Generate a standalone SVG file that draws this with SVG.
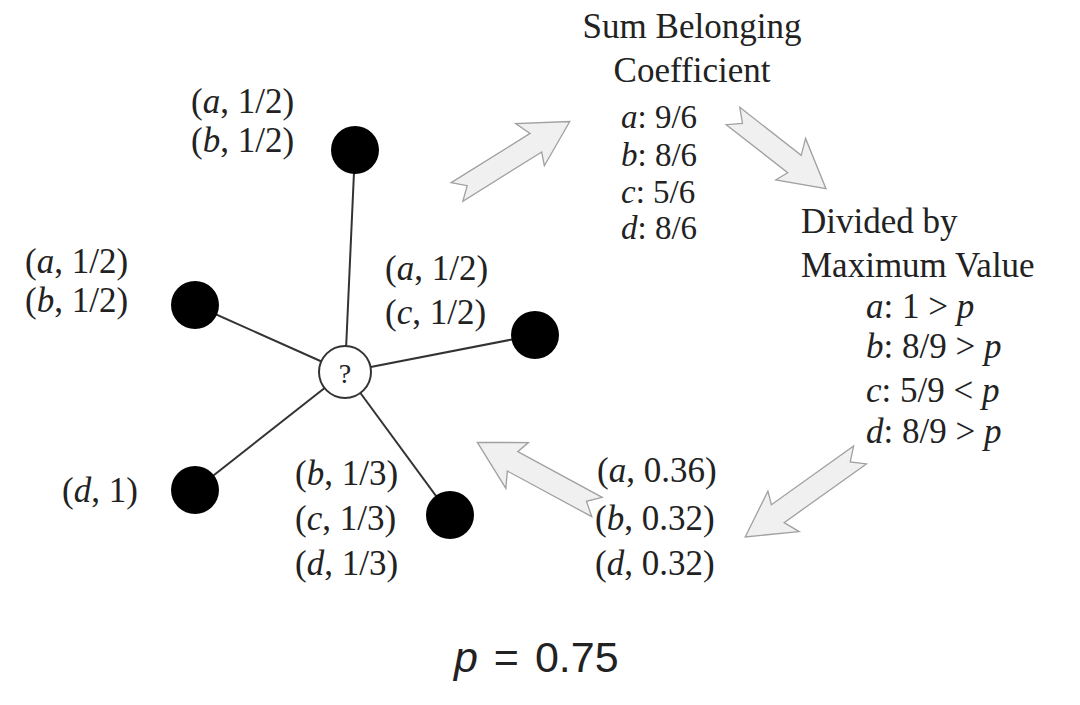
<svg xmlns="http://www.w3.org/2000/svg" width="1080" height="705" viewBox="0 0 1080 705">
<defs>
<style>
.t{font-family:"Liberation Serif","Times New Roman",serif;font-size:35px;fill:#222;}
.s{font-size:33px;}
.c{text-anchor:middle;}
.i{font-style:italic;}
.bn{fill:#000;}
.ln{stroke:#333;stroke-width:2;fill:none;}
.ar{fill:#f0f0f0;stroke:#a0a0a0;stroke-width:1.3;stroke-linejoin:miter;}
</style>
</defs>
<rect width="1080" height="705" fill="#fff"/>
<g id="connectors">
<line class="ln" x1="345" y1="372" x2="355" y2="150"/>
<line class="ln" x1="345" y1="372" x2="195" y2="305"/>
<line class="ln" x1="345" y1="372" x2="535" y2="335"/>
<line class="ln" x1="345" y1="372" x2="195" y2="490"/>
<line class="ln" x1="345" y1="372" x2="450" y2="515"/>
</g>
<g id="arrows">
<path class="ar" transform="translate(457,192) rotate(-32)" d="M0,-11 L93,-11 L86,-27 L133,0 L88,24 L93,11 L0,11 L12,0 Z"/>
<path class="ar" transform="translate(733,116) rotate(38)" d="M0,-11 L78,-11 L71,-27 L118,0 L73,24 L78,11 L0,11 L12,0 Z"/>
<path class="ar" transform="translate(860,455) rotate(144.5)" d="M0,-11 L101,-11 L94,-27 L141,0 L96,24 L101,11 L0,11 L12,0 Z"/>
<path class="ar" transform="translate(597,507) rotate(208.4)" d="M0,-11 L96,-11 L89,-27 L136,0 L91,24 L96,11 L0,11 L12,0 Z"/>
</g>
<g id="n1"><circle class="bn" cx="355" cy="150" r="24"/></g>
<g id="n2"><circle class="bn" cx="195" cy="305" r="24"/></g>
<g id="n3"><circle class="bn" cx="535" cy="335" r="24"/></g>
<g id="n4"><circle class="bn" cx="195" cy="490" r="24"/></g>
<g id="n5"><circle class="bn" cx="450" cy="515" r="24"/></g>
<g id="center"><circle cx="345" cy="372" r="26" fill="#fff" stroke="#333" stroke-width="2"/><text class="t c" x="345" y="383" style="font-size:28px">?</text></g>
<g id="labels">
<text class="t" x="191" y="113">(<tspan class="i">a</tspan>, 1/2)</text>
<text class="t" x="191" y="152">(<tspan class="i">b</tspan>, 1/2)</text>
<text class="t" x="25" y="273">(<tspan class="i">a</tspan>, 1/2)</text>
<text class="t" x="25" y="312">(<tspan class="i">b</tspan>, 1/2)</text>
<text class="t" x="385" y="280">(<tspan class="i">a</tspan>, 1/2)</text>
<text class="t" x="385" y="324">(<tspan class="i">c</tspan>, 1/2)</text>
<text class="t" x="62" y="502">(<tspan class="i">d</tspan>, 1)</text>
<text class="t" x="295" y="485">(<tspan class="i">b</tspan>, 1/3)</text>
<text class="t" x="295" y="530">(<tspan class="i">c</tspan>, 1/3)</text>
<text class="t" x="295" y="575">(<tspan class="i">d</tspan>, 1/3)</text>
</g>
<g id="sum">
<text class="t c" x="692" y="38">Sum Belonging</text>
<text class="t c" x="692" y="82">Coefficient</text>
<text class="t s" x="621" y="128"><tspan class="i">a</tspan>: 9/6</text>
<text class="t s" x="621" y="166"><tspan class="i">b</tspan>: 8/6</text>
<text class="t s" x="621" y="203"><tspan class="i">c</tspan>: 5/6</text>
<text class="t s" x="621" y="239"><tspan class="i">d</tspan>: 8/6</text>
</g>
<g id="divided">
<text class="t" x="801" y="233">Divided by</text>
<text class="t" x="801" y="277">Maximum Value</text>
<text class="t" x="866" y="318"><tspan class="i">a</tspan>: 1 &gt; <tspan class="i">p</tspan></text>
<text class="t" x="866" y="358"><tspan class="i">b</tspan>: 8/9 &gt; <tspan class="i">p</tspan></text>
<text class="t" x="866" y="402"><tspan class="i">c</tspan>: 5/9 &lt; <tspan class="i">p</tspan></text>
<text class="t" x="866" y="443"><tspan class="i">d</tspan>: 8/9 &gt; <tspan class="i">p</tspan></text>
</g>
<g id="result">
<text class="t" x="597" y="482">(<tspan class="i">a</tspan>, 0.36)</text>
<text class="t" x="595" y="530">(<tspan class="i">b</tspan>, 0.32)</text>
<text class="t" x="595" y="575">(<tspan class="i">d</tspan>, 0.32)</text>
</g>
<text x="454" y="672" style="font-family:'Liberation Sans','DejaVu Sans',sans-serif;font-size:43px;fill:#222;word-spacing:4px;"><tspan class="i">p</tspan> = 0.75</text>
</svg>
